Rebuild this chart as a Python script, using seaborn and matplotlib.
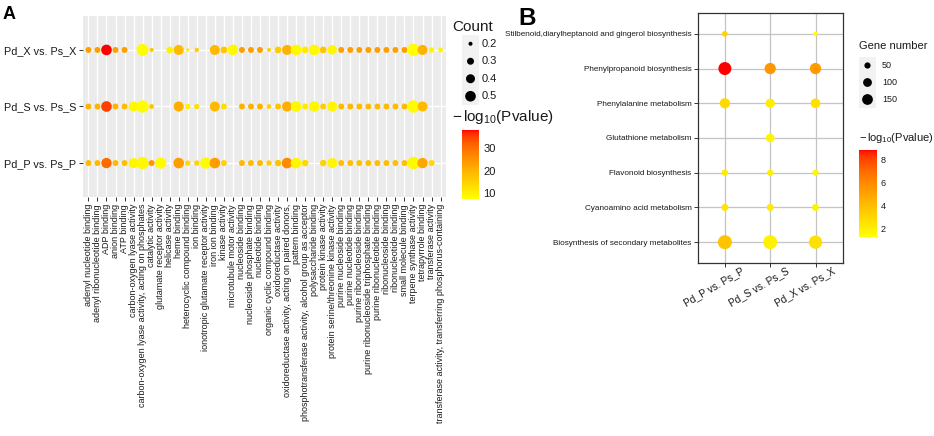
import numpy as np
import pandas as pd
import matplotlib
matplotlib.use("Agg")
import matplotlib.pyplot as plt
import matplotlib.transforms as mtrans
import seaborn as sns
from matplotlib.colors import ListedColormap, Normalize
from matplotlib.cm import ScalarMappable

# ---------------- data: panel A ----------------
terms_A = [
    "adenyl nucleotide binding", "adenyl ribonucleotide binding", "ADP binding",
    "anion binding", "ATP binding", "carbon-oxygen lyase activity",
    "carbon-oxygen lyase activity, acting on phosphates", "catalytic activity",
    "glutamate receptor activity", "helicase activity", "heme binding",
    "heterocyclic compound binding", "ion binding",
    "ionotropic glutamate receptor activity", "iron ion binding", "kinase activity",
    "microtubule motor activity", "nucleoside binding", "nucleoside phosphate binding",
    "nucleotide binding", "organic cyclic compound binding", "oxidoreductase activity",
    "oxidoreductase activity, acting on paired donors,", "pattern binding",
    "phosphotransferase activity, alcohol group as acceptor", "polysaccharide binding",
    "protein kinase activity", "protein serine/threonine kinase activity",
    "purine nucleoside binding", "purine nucleotide binding",
    "purine ribonucleoside binding", "purine ribonucleoside triphosphate binding",
    "purine ribonucleotide binding", "ribonucleoside binding", "ribonucleotide binding",
    "small molecule binding", "terpene synthase activity", "tetrapyrrole binding",
    "transferase activity", "transferase activity, transferring phosphorus-containing",
]
comparisons_A = ["Pd_X vs. Ps_X", "Pd_S vs. Ps_S", "Pd_P vs. Ps_P"]
N = None
count_X = [0.26, 0.26, 0.50, 0.26, 0.26, N, 0.59, 0.20, N, 0.29,
           0.46, 0.185, 0.21, N, 0.46, 0.29, 0.50, 0.26, 0.26, 0.26,
           0.20, 0.29, 0.46, 0.50, 0.29, 0.50, 0.29, 0.42, 0.26, 0.26,
           0.26, 0.26, 0.26, 0.26, 0.26, 0.26, 0.63, 0.46, 0.24, 0.22]
pval_X = [23, 23, 38, 23, 23, N, 8, 17, N, 9.5,
          19, 11, 16, N, 19, 17, 8.5, 23, 23, 23,
          15, 16, 20, 8.5, 11, 8.5, 17, 9, 23, 23,
          23, 23, 23, 23, 23, 23, 7.5, 20, 9.5, 9.5]
count_S = [0.26, 0.26, 0.50, 0.26, 0.26, 0.46, 0.62, 0.22, N, N,
           0.46, 0.24, 0.24, N, 0.46, 0.26, N, 0.26, 0.26, 0.26,
           0.22, 0.26, 0.46, 0.50, 0.26, 0.50, 0.26, 0.46, 0.26, 0.26,
           0.26, 0.26, 0.26, 0.26, 0.26, 0.26, 0.63, 0.46, N, N]
pval_S = [20, 20, 35, 20, 19, 8.5, 8, 17, N, N,
          21, 10, 13, N, 19, 13, N, 20, 20, 20,
          15, 17, 21, 8.5, 11, 8.5, 16, 9, 19, 19,
          19, 19, 19, 19, 19, 19, 8, 19, N, N]
count_P = [0.26, 0.26, 0.48, 0.26, 0.26, 0.46, 0.62, 0.26, 0.54, N,
           0.50, 0.24, 0.24, 0.54, 0.50, 0.26, N, 0.26, 0.26, 0.26,
           0.24, 0.28, 0.50, 0.50, 0.28, N, 0.28, 0.46, 0.26, 0.26,
           0.26, 0.26, 0.26, 0.26, 0.26, 0.26, 0.63, 0.48, 0.26, N]
pval_P = [19, 19, 30.5, 19, 18, 9, 8.5, 24.5, 8, N,
          23.5, 14, 15, 8, 23.5, 15, N, 19, 19, 19,
          16, 17, 26, 9, 14, N, 15, 9, 18, 18,
          18, 18, 18, 18, 18, 18, 8.5, 22, 14, N]
count_breaks = [0.2, 0.3, 0.4, 0.5]
pval_ticks_A = [10, 20, 30]

# ---------------- data: panel B ----------------
pathways_B = [
    "Stilbenoid,diarylheptanoid and gingerol biosynthesis",
    "Phenylpropanoid biosynthesis", "Phenylalanine metabolism",
    "Glutathione metabolism", "Flavonoid biosynthesis",
    "Cyanoamino acid metabolism", "Biosynthesis of secondary metabolites",
]
comparisons_B = ["Pd_P vs. Ps_P", "Pd_S vs. Ps_S", "Pd_X vs. Ps_X"]
genes_P = [42, 219, 138, N, 52, 64, 254]
genes_S = [N, 165, 112, 97, 52, 64, 254]
genes_X = [21, 165, 122, N, 50, 60, 230]
pv_P = [3.0, 8.81, 2.8, N, 2.1, 2.4, 3.7]
pv_S = [N, 5.4, 2.0, 1.7, 1.9, 2.1, 1.8]
pv_X = [1.26, 5.3, 2.5, N, 1.6, 1.8, 2.5]
gene_breaks = [50, 100, 150]
pval_ticks_B = [2, 4, 6, 8]


# ---------------- colour ramp (Lab interpolation yellow -> red, like ggplot) ----------------
def srgb_to_lab(rgb):
    rgb = np.asarray(rgb, float)
    lin = np.where(rgb <= 0.04045, rgb / 12.92, ((rgb + 0.055) / 1.055) ** 2.4)
    M = np.array([[0.4124, 0.3576, 0.1805], [0.2126, 0.7152, 0.0722], [0.0193, 0.1192, 0.9505]])
    xyz = M @ lin / np.array([0.95047, 1.0, 1.08883])
    f = np.where(xyz > 0.008856, np.cbrt(xyz), 7.787 * xyz + 16 / 116)
    return np.array([116 * f[1] - 16, 500 * (f[0] - f[1]), 200 * (f[1] - f[2])])


def lab_to_srgb(lab):
    L, a, b = lab
    fy = (L + 16) / 116
    fx = fy + a / 500
    fz = fy - b / 200
    f = np.array([fx, fy, fz])
    xyz = np.where(f > 0.2069, f ** 3, (f - 16 / 116) / 7.787) * np.array([0.95047, 1.0, 1.08883])
    Minv = np.array([[3.2406, -1.5372, -0.4986], [-0.9689, 1.8758, 0.0415], [0.0557, -0.2040, 1.0570]])
    lin = np.clip(Minv @ xyz, 0, 1)
    return np.clip(np.where(lin <= 0.0031308, 12.92 * lin, 1.055 * lin ** (1 / 2.4) - 0.055), 0, 1)


lab_lo = srgb_to_lab([1, 1, 0])
lab_hi = srgb_to_lab([1, 0, 0])
ramp = [lab_to_srgb(lab_lo + t * (lab_hi - lab_lo)) for t in np.linspace(0, 1, 256)]
cmap = ListedColormap(ramp)

# ---------------- style ----------------
sns.set_theme(style="white")
plt.rcParams['font.family'] = ['Liberation Sans', 'DejaVu Sans']
plt.rcParams['mathtext.fontset'] = 'custom'
plt.rcParams['mathtext.rm'] = 'Liberation Sans'
plt.rcParams['mathtext.it'] = 'Liberation Sans:italic'
plt.rcParams['mathtext.bf'] = 'Liberation Sans:bold'
TXT = "#1a1a1a"
W, H = 934, 436
fig = plt.figure(figsize=(W / 100, H / 100), dpi=100)


def px_axes(x0, y0, x1, y1):
    return fig.add_axes([x0 / W, 1 - y1 / H, (x1 - x0) / W, (y1 - y0) / H])


# ---------------- panel A ----------------
recs = []
for ci, (cn, pv) in enumerate(zip([count_X, count_S, count_P], [pval_X, pval_S, pval_P])):
    for ti, (c, p) in enumerate(zip(cn, pv)):
        if c is not None:
            recs.append(dict(term=ti, comp=ci, count=c, pval=p))
dfA = pd.DataFrame(recs)
normA = Normalize(dfA["pval"].min(), dfA["pval"].max())

axA = px_axes(83, 16, 446, 197)
axA.set_facecolor("#EBEBEB")
axA.set_axisbelow(True)
sns.scatterplot(data=dfA, x="term", y="comp", hue="pval", palette=cmap, hue_norm=normA,
                size="count", size_norm=(0.15, 0.65), sizes=(0, 84), linewidth=0,
                legend=False, ax=axA, zorder=3)
axA.set_xlim(-0.6, len(terms_A) - 0.4)
axA.set_ylim(len(comparisons_A) - 0.4, -0.6)
axA.set_xticks(range(len(terms_A)))
axA.set_xticklabels(terms_A, rotation=90, fontsize=6.5, color=TXT)
axA.set_yticks(range(len(comparisons_A)))
axA.set_yticklabels(comparisons_A, fontsize=7.8, color=TXT)
axA.grid(True, color="white", lw=1.0)
for s in axA.spines.values():
    s.set_visible(False)
axA.tick_params(axis="both", length=3, width=0.7, color="#333333", pad=2, bottom=True, left=True)
axA.set_xlabel("")
axA.set_ylabel("")

# legend A : Count
fig.text(452 / W, 1 - 27 / H, "Count", fontsize=11, va="center", ha="left", color=TXT)
kA = px_axes(462, 35, 479, 105)
kA.set_facecolor("#F2F2F2")
kA.set_xlim(0, 1)
kA.set_ylim(len(count_breaks), 0)
kA.scatter([0.5] * len(count_breaks), [i + 0.5 for i in range(len(count_breaks))],
           s=[84 * (b - 0.15) / 0.5 for b in count_breaks], c="black", linewidths=0)
kA.set_xticks([])
kA.set_yticks([])
for s in kA.spines.values():
    s.set_visible(False)
for i, b in enumerate(count_breaks):
    fig.text(482 / W, 1 - (35 + 70 * (i + 0.5) / len(count_breaks)) / H, f"{b}",
             fontsize=8, va="center", ha="left", color=TXT)

fig.text(452 / W, 1 - 117 / H, r"$-\,\mathrm{log}_{10}$(Pvalue)", fontsize=11,
         va="center", ha="left", color=TXT)
cA = px_axes(462, 130, 479, 199)
cbA = fig.colorbar(ScalarMappable(norm=normA, cmap=cmap), cax=cA, ticks=pval_ticks_A)
cbA.outline.set_visible(False)
cA.tick_params(axis="y", direction="in", color="white", length=3.5, width=0.8,
               left=True, right=True, labelsize=8, labelcolor=TXT, pad=3)

# ---------------- panel B ----------------
recsB = []
for ci, (gn, pv) in enumerate(zip([genes_P, genes_S, genes_X], [pv_P, pv_S, pv_X])):
    for pi, (g, p) in enumerate(zip(gn, pv)):
        if g is not None:
            recsB.append(dict(comp=ci, path=pi, genes=g, pval=p))
dfB = pd.DataFrame(recsB)
normB = Normalize(dfB["pval"].min(), dfB["pval"].max())

axB = px_axes(697.7, 13, 842.7, 263)
axB.set_facecolor("white")
axB.set_axisbelow(True)
sns.scatterplot(data=dfB, x="comp", y="path", hue="pval", palette=cmap, hue_norm=normB,
                size="genes", size_norm=(0, 300), sizes=(0, 120), linewidth=0,
                legend=False, ax=axB, zorder=3)
axB.set_xlim(-0.6, len(comparisons_B) - 0.4)
axB.set_ylim(len(pathways_B) - 0.4, -0.6)
axB.set_yticks(range(len(pathways_B)))
axB.set_yticklabels(pathways_B, fontsize=5.9, color=TXT)
axB.set_xticks(range(len(comparisons_B)))
axB.set_xticklabels([])
lab_tr = mtrans.blended_transform_factory(axB.transData, axB.transAxes) + \
    mtrans.ScaledTranslation(16 / 100, -3 / 100, fig.dpi_scale_trans)
for i, lab in enumerate(comparisons_B):
    axB.text(i, 0, lab, transform=lab_tr, rotation=30, rotation_mode="anchor",
             ha="right", va="top", fontsize=7.3, color=TXT)
axB.grid(True, color="#C4C4C4", lw=0.9)
for s in axB.spines.values():
    s.set_color("#333333")
    s.set_linewidth(0.9)
axB.tick_params(axis="both", length=3, width=0.7, color="#333333", pad=1.5, bottom=True, left=True)
axB.set_xlabel("")
axB.set_ylabel("")

# legend B : Gene number
fig.text(859 / W, 1 - 46 / H, "Gene number", fontsize=8, va="center", ha="left", color=TXT)
kB = px_axes(859, 57, 876, 108)
kB.set_facecolor("#F2F2F2")
kB.set_xlim(0, 1)
kB.set_ylim(len(gene_breaks), 0)
kB.scatter([0.5] * len(gene_breaks), [i + 0.5 for i in range(len(gene_breaks))],
           s=[120 * g / 300 for g in gene_breaks], c="black", linewidths=0)
kB.set_xticks([])
kB.set_yticks([])
for s in kB.spines.values():
    s.set_visible(False)
for i, g in enumerate(gene_breaks):
    fig.text(882 / W, 1 - (57 + 51 * (i + 0.5) / len(gene_breaks)) / H, f"{g}",
             fontsize=6.5, va="center", ha="left", color=TXT)

fig.text(859 / W, 1 - 138 / H, r"$-\,\mathrm{log}_{10}$(Pvalue)", fontsize=8,
         va="center", ha="left", color=TXT)
cB = px_axes(859, 150, 876.7, 236.5)
cbB = fig.colorbar(ScalarMappable(norm=normB, cmap=cmap), cax=cB, ticks=pval_ticks_B)
cbB.outline.set_visible(False)
cB.tick_params(axis="y", direction="in", color="white", length=3.5, width=0.8,
               left=True, right=True, labelsize=6.5, labelcolor=TXT, pad=3)

# panel letters
fig.text(3 / W, 1 - 19 / H, "A", fontsize=13, fontweight="bold", va="baseline", ha="left", color="black")
fig.text(518 / W, 1 - 25 / H, "B", fontsize=17.5, fontweight="bold", va="baseline", ha="left", color="black")

fig.savefig("out.png", dpi=100)
